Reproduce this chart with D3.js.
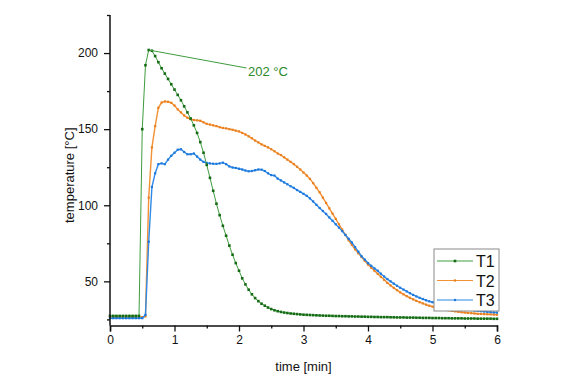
<!DOCTYPE html>
<html>
<head>
<meta charset="utf-8">
<script src="https://cdn.jsdelivr.net/npm/d3@7"></script>
<style>
    body{margin:0;background:#fff;}
    svg{display:block;font-family:"Liberation Sans",Arial,sans-serif;}
</style>
</head>
<body>
<div id="chart"></div>
<script>
// samples every 0.05 min (3 s), 0 .. 6 min
const timeStep = 0.05;
const seriesNames = ["T1", "T2", "T3"];
const xTicks = [0, 1, 2, 3, 4, 5, 6];
const yTicks = [50, 100, 150, 200];
const peakLabel = "202 °C";
const peakValue = 202;
const peakTime = 0.6;

const t1 = [
    27.3, 27.3, 27.3, 27.3, 27.3, 27.3, 27.3, 27.3, 27.3, 27.3,
    150, 192, 202, 201.5, 198, 194, 190, 186.5, 183, 179.5,
    176, 172.5, 169, 165, 161, 157, 152.5, 147.5, 141.5, 134.5,
    126.5, 118, 109.5, 101, 93.5, 86.5, 80, 73.5, 67.5, 62,
    57, 52, 48, 44.5, 41.5, 39, 37, 35.3, 34, 32.8,
    31.8, 31, 30.4, 29.9, 29.5, 29.2, 28.9, 28.7, 28.5, 28.3,
    28.1,
    28.0, 27.9, 27.8, 27.7, 27.6, 27.5, 27.4, 27.4, 27.3, 27.2,
    27.2, 27.1, 27.1, 27.0, 27.0, 26.9, 26.9, 26.8, 26.8, 26.7,
    26.7, 26.6, 26.6, 26.5, 26.5, 26.5, 26.4, 26.4, 26.3, 26.3,
    26.3, 26.2, 26.2, 26.2, 26.1, 26.1, 26.0, 26.0, 26.0, 25.9,
    25.9, 25.9, 25.8, 25.8, 25.8, 25.7, 25.7, 25.7, 25.7, 25.6,
    25.6, 25.6, 25.6, 25.5, 25.5, 25.5, 25.5, 25.5, 25.4, 25.4
];
const t2 = [
    26.5, 26.5, 26.5, 26.5, 26.5, 26.5, 26.5, 26.5, 26.5, 26.5,
    26.5, 27,
    105, 138, 152, 164, 167.5, 168.2, 168, 167.3, 165.5, 163,
    161, 159, 157.5, 156.5, 156, 155.8, 155.5, 154.5, 153.5, 153,
    152.5, 152, 151.3, 150.8, 150.5, 150, 149.6, 149, 148.5, 147.5,
    146.5, 145.3, 144, 142.5, 141.3, 140, 139, 138, 136.8, 135.5,
    134, 133, 131.5, 130, 128.5, 127, 125.3, 123.5, 121.5, 119.5,
    117.3, 114.5, 111.5, 108.5, 105, 101.5, 98, 94.5, 91, 87.5,
    84, 80.5, 77, 74, 71, 68.5, 66, 63.5, 61, 59,
    57, 55, 53, 51, 49, 47.3, 45.7, 44.2, 42.8, 41.5,
    40.3, 39.2, 38.2, 37.2, 36.3, 35.5, 34.7, 34, 33.4,
    32.8, 32.3, 31.8, 31.4, 31.0, 30.6, 30.3, 30.0, 29.7, 29.5,
    29.3, 29.1, 28.9, 28.7, 28.6, 28.5, 28.4, 28.3, 28.2, 28.1
];
const t3 = [
    25.8, 25.8, 25.8, 25.8, 25.8, 25.8, 25.8, 25.8, 25.8, 25.8,
    25.8, 28,
    76, 112, 121, 127, 127.5, 127, 130, 132.5, 134.5, 136.5,
    136.8, 135, 133.5, 133.5, 134, 132, 130, 128.5, 127.8, 127.5,
    127.3, 127.2, 127.5, 128, 127, 125.5, 124.8, 124.5, 124, 123.5,
    122.8, 122.3, 122.5, 123, 123.5, 123.4, 122.5, 121, 119.8, 119.5,
    117.5, 116.3, 115, 113.8, 112.5, 111.4, 110, 108.8, 107.5, 106.2,
    104.5, 102.5, 100.3, 98.2, 96.2, 94.3, 92, 89.8, 87.5, 85.3,
    83, 80.5, 78, 75.5, 72.5, 69.5, 66.5, 64.3, 62, 60.2,
    58.5, 57, 55, 53.2, 51.5, 50, 48.5, 47.1, 45.8, 44.6,
    43.4, 42.2, 41.1, 40.1, 39.2, 38.4, 37.6, 36.9, 36.3,
    35.7, 35.1, 34.6, 34.1, 33.6, 33.2, 32.8, 32.4, 32.0, 31.7,
    31.4, 31.1, 30.8, 30.6, 30.4, 30.2, 30.0, 29.8, 29.6, 29.5
];

(function(){
    let width = 575, height = 383;
    let plot = {left: 110, right: 497, top: 15, bottom: 325.5};
    let styles = [
        {line: "#3f9c3f", mark: "#156b15", size: 2.6, lw: 1},
        {line: "#f39035", mark: "#ea7f1e", size: 2.2, lw: 1.4},
        {line: "#2f8ae6", mark: "#1c78dc", size: 2.2, lw: 1.4}
    ];
    let series = [t1, t2, t3];

    let svg = d3.select("#chart").append("svg")
        .attr("width", width)
        .attr("height", height);

    let x = d3.scaleLinear().domain([0, 6]).range([plot.left, plot.right]);
    let y = d3.scaleLinear().domain([21, 225]).range([plot.bottom, plot.top]);

    function rows(values){
        return values.map(function(v, i){ return [i * timeStep, v]; });
    }

    // curves, T1 drawn last so it sits on top like the original
    let order = [1, 2, 0];
    order.forEach(function(idx){
        let st = styles[idx];
        let data = rows(series[idx]);
        svg.append("path")
            .datum(data)
            .attr("fill", "none")
            .attr("stroke", st.line)
            .attr("stroke-width", st.lw)
            .attr("d", d3.line()
                .x(function(d){ return x(d[0]); })
                .y(function(d){ return y(d[1]); }));
        svg.append("g").selectAll("rect")
            .data(data)
            .enter().append("rect")
            .attr("x", function(d){ return x(d[0]) - st.size / 2; })
            .attr("y", function(d){ return y(d[1]) - st.size / 2; })
            .attr("width", st.size)
            .attr("height", st.size)
            .attr("fill", st.mark);
    });

    // peak annotation
    svg.append("line")
        .attr("x1", x(peakTime)).attr("y1", y(peakValue))
        .attr("x2", 246.5).attr("y2", 68)
        .attr("stroke", "#3f9c3f")
        .attr("stroke-width", 1);
    svg.append("text")
        .attr("x", 248).attr("y", 76)
        .attr("fill", "#2b8a2b")
        .attr("font-size", 13)
        .text(peakLabel);

    // axes
    let xAxis = d3.axisBottom(x).tickValues(xTicks).tickSize(6).tickPadding(4)
        .tickFormat(d3.format("d"));
    let xMinor = d3.axisBottom(x).tickValues(d3.range(0.5, 6, 1)).tickSize(3).tickFormat("");
    let yAxis = d3.axisLeft(y).tickValues(yTicks).tickSize(6).tickPadding(6);
    let yMinor = d3.axisLeft(y).tickValues([25, 75, 125, 175, 225]).tickSize(3).tickFormat("");

    function styleAxis(g){
        g.selectAll(".domain").attr("stroke", "#111").attr("stroke-width", 1.5);
        g.selectAll(".tick line").attr("stroke", "#111").attr("stroke-width", 1.3);
        g.selectAll("text").attr("font-size", 12).attr("fill", "#111")
            .attr("font-family", "Liberation Sans, Arial, sans-serif");
    }
    let gx = svg.append("g").attr("transform", "translate(0," + plot.bottom + ")").call(xAxis);
    let gxm = svg.append("g").attr("transform", "translate(0," + plot.bottom + ")").call(xMinor);
    let gy = svg.append("g").attr("transform", "translate(" + plot.left + ",0)").call(yAxis);
    let gym = svg.append("g").attr("transform", "translate(" + plot.left + ",0)").call(yMinor);
    [gx, gxm, gy, gym].forEach(styleAxis);
    gxm.select(".domain").remove();
    gym.select(".domain").remove();
    gy.select(".domain").attr("d", "M0," + plot.top + "V" + plot.bottom);

    svg.append("text")
        .attr("x", (plot.left + plot.right) / 2)
        .attr("y", 371)
        .attr("text-anchor", "middle")
        .attr("font-size", 13)
        .attr("fill", "#111")
        .text("time [min]");
    svg.append("text")
        .attr("transform", "translate(74," + ((plot.top + plot.bottom) / 2 + 5) + ") rotate(-90)")
        .attr("text-anchor", "middle")
        .attr("font-size", 13)
        .attr("fill", "#111")
        .text("temperature [°C]");

    // legend
    let lg = svg.append("g").attr("transform", "translate(434,249)");
    lg.append("rect")
        .attr("width", 65).attr("height", 62)
        .attr("fill", "#fff")
        .attr("stroke", "#8a8a8a")
        .attr("stroke-width", 1);
    seriesNames.forEach(function(name, i){
        let st = styles[i];
        let cy = 12 + i * 19.5;
        lg.append("line")
            .attr("x1", 3).attr("x2", 39)
            .attr("y1", cy).attr("y2", cy)
            .attr("stroke", st.line).attr("stroke-width", 1);
        lg.append("rect")
            .attr("x", 21 - st.size / 2).attr("y", cy - st.size / 2)
            .attr("width", st.size).attr("height", st.size)
            .attr("fill", st.mark);
        lg.append("text")
            .attr("x", 42).attr("y", cy + 6)
            .attr("font-size", 16)
            .attr("fill", "#111")
            .text(name);
    });
})();
</script>
</body>
</html>
